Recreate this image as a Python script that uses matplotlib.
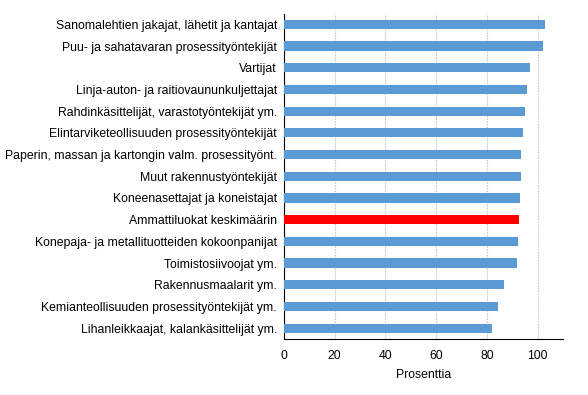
import matplotlib
matplotlib.use('Agg')
import matplotlib.pyplot as plt

plt.rcParams['font.family'] = ['Liberation Sans', 'DejaVu Sans']

# ammattiluokat, ylhaalta alas
labels = [
    'Sanomalehtien jakajat, lähetit ja kantajat',
    'Puu- ja sahatavaran prosessityöntekijät',
    'Vartijat',
    'Linja-auton- ja raitiovaununkuljettajat',
    'Rahdinkäsittelijät, varastotyöntekijät ym.',
    'Elintarviketeollisuuden prosessityöntekijät',
    'Paperin, massan ja kartongin valm. prosessityönt.',
    'Muut rakennustyöntekijät',
    'Koneenasettajat ja koneistajat',
    'Ammattiluokat keskimäärin',
    'Konepaja- ja metallituotteiden kokoonpanijat',
    'Toimistosiivoojat ym.',
    'Rakennusmaalarit ym.',
    'Kemianteollisuuden prosessityöntekijät ym.',
    'Lihanleikkaajat, kalankäsittelijät ym.',
]
values = [102.8, 102.0, 96.8, 96.0, 94.9, 94.1, 93.3, 93.3, 92.9, 92.5,
          92.1, 91.7, 86.9, 84.2, 82.2]
highlight = 'Ammattiluokat keskimäärin'

colors = ['#ff0000' if l == highlight else '#5b9bd5' for l in labels]

fig = plt.figure(figsize=(5.88, 3.95), dpi=100)
ax = fig.add_axes([284 / 588, 1 - 339 / 395, (563 - 284) / 588, (339 - 13.5) / 395])

ypos = list(range(len(labels)))
ax.barh(ypos, values, height=0.42, color=colors, zorder=3)
ax.set_yticks(ypos)
ax.set_yticklabels(labels, fontsize=8.8)
ax.set_ylim(len(labels) - 0.5, -0.5)
ax.set_xlim(0, 110)
ax.set_xticks([0, 20, 40, 60, 80, 100])
ax.tick_params(axis='both', length=0, labelsize=8.8, pad=5)
ax.tick_params(axis='x', pad=8)
ax.set_xlabel('Prosenttia', fontsize=8.8, labelpad=5)

ax.xaxis.grid(True, color='#c8c8c8', linestyle=(0, (1.5, 1)), linewidth=0.8, zorder=0)
for s in ['top', 'right']:
    ax.spines[s].set_visible(False)
for s in ['left', 'bottom']:
    ax.spines[s].set_color('black')
    ax.spines[s].set_linewidth(0.8)

fig.savefig('out.png', dpi=100)
